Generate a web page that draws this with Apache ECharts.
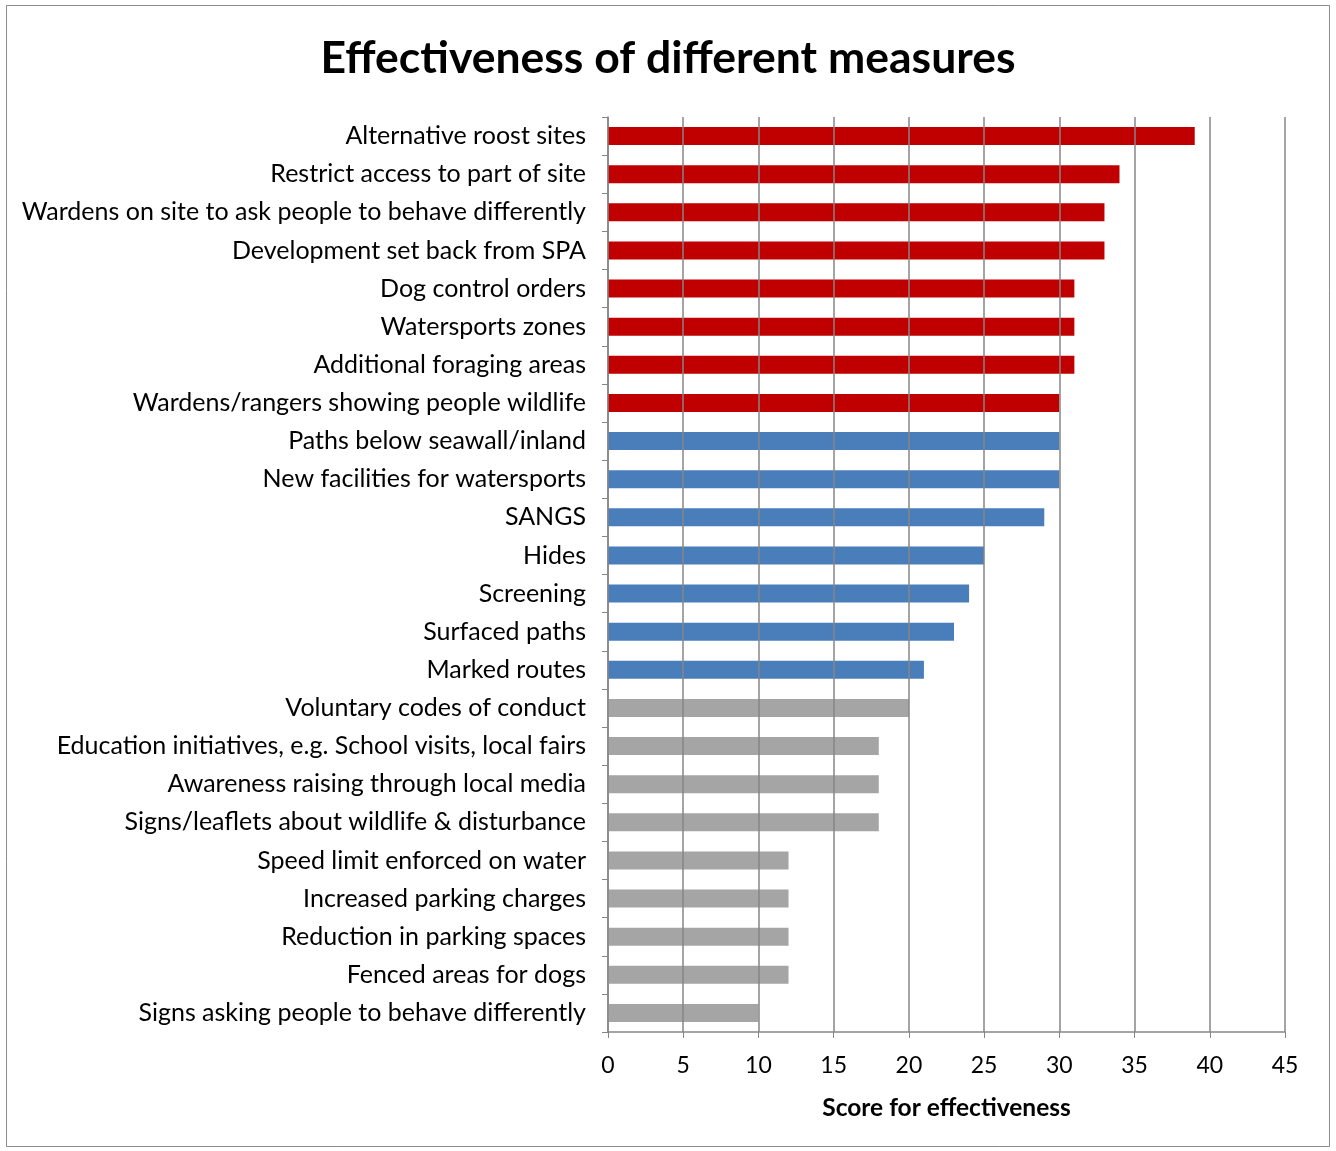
<!DOCTYPE html>
<html><head><meta charset="utf-8">
<script src="https://cdn.jsdelivr.net/npm/echarts@6/dist/echarts.min.js"></script>
<style>html,body{margin:0;padding:0;background:#fff}#c{width:1336px;height:1151px}</style>
</head><body><div id="c"></div>
<script>
const categories = [
  "Alternative roost sites",
  "Restrict access to part of site",
  "Wardens on site to ask people to behave differently",
  "Development set back from SPA",
  "Dog control orders",
  "Watersports zones",
  "Additional foraging areas",
  "Wardens/rangers showing people wildlife",
  "Paths below seawall/inland",
  "New facilities for watersports",
  "SANGS",
  "Hides",
  "Screening",
  "Surfaced paths",
  "Marked routes",
  "Voluntary codes of conduct",
  "Education initiatives, e.g. School visits, local fairs",
  "Awareness raising through local media",
  "Signs/leaflets about wildlife & disturbance",
  "Speed limit enforced on water",
  "Increased parking charges",
  "Reduction in parking spaces",
  "Fenced areas for dogs",
  "Signs asking people to behave differently"
];
const scores = [39, 34, 33, 33, 31, 31, 31, 30, 30, 30, 29, 25, 24, 23, 21, 20, 18, 18, 18, 12, 12, 12, 12, 10];
const groups = ["high","high","high","high","high","high","high","high",
  "mid","mid","mid","mid","mid","mid","mid",
  "low","low","low","low","low","low","low","low","low"];
const groupColors = {high: "#C00000", mid: "#4A7EBB", low: "#A5A5A5"};
const xTicks = [0, 5, 10, 15, 20, 25, 30, 35, 40, 45];

const chart = echarts.init(document.getElementById('c'));
const font = 'Lato, "Open Sans", sans-serif';
chart.setOption({
  animation: false,
  backgroundColor: '#fff',
  graphic: [{type: 'rect', shape: {x: 6.5, y: 5.5, width: 1323, height: 1141},
    style: {fill: 'none', stroke: '#8c8c8c', lineWidth: 1}, silent: true}],
  title: {
    text: 'Effectiveness of different measures', left: 'center', top: 31,
    textStyle: {fontFamily: font, fontWeight: 'bold', fontSize: 44.5, color: '#000'}
  },
  grid: {left: 608, right: 51, top: 117, bottom: 119},
  xAxis: {
    type: 'value', min: xTicks[0], max: xTicks[xTicks.length - 1], interval: 5,
    z: 3,
    name: 'Score for effectiveness', nameLocation: 'middle', nameGap: 64,
    nameTextStyle: {fontFamily: font, fontWeight: 'bold', fontSize: 24.5, color: '#000'},
    axisLine: {show: true, lineStyle: {color: '#868686', width: 1.5}},
    axisTick: {show: true, length: 6, lineStyle: {color: '#868686'}},
    axisLabel: {fontFamily: font, fontSize: 23, color: '#000', margin: 22},
    splitLine: {show: true, lineStyle: {color: '#868686', width: 1.5}}
  },
  yAxis: {
    type: 'category', data: categories, inverse: true,
    axisLine: {show: true, lineStyle: {color: '#868686', width: 1.5}},
    axisTick: {show: true, length: 6, lineStyle: {color: '#868686'}},
    axisLabel: {fontFamily: font, fontSize: 25, color: '#000', margin: 22},
    splitLine: {show: false}
  },
  series: [{
    type: 'bar', barWidth: 18,
    data: scores.map((v, i) => ({value: v, itemStyle: {color: groupColors[groups[i]]}}))
  }]
});
</script></body></html>
